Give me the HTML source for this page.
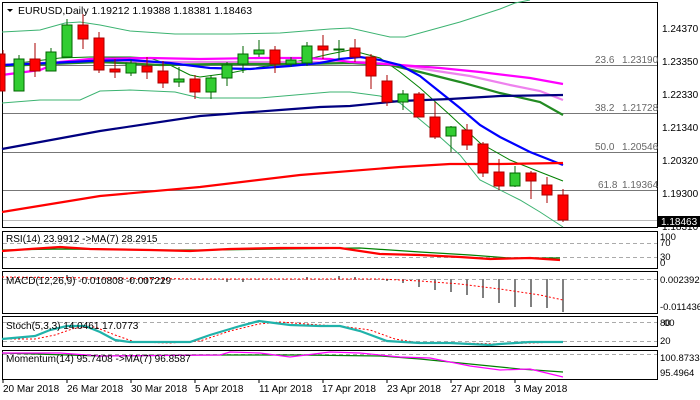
<!DOCTYPE html>
<html><head><meta charset="utf-8"><style>
html,body{margin:0;padding:0;background:#fff;}
svg{display:block;font-family:"Liberation Sans",sans-serif;}
</style></head><body>
<svg width="700" height="400" viewBox="0 0 700 400" xmlns="http://www.w3.org/2000/svg">
<rect width="700" height="400" fill="#fff"/>
<!-- panel borders -->
<g fill="none" stroke="#000" stroke-width="1">
<rect x="2.5" y="2.5" width="655" height="225"/>
<rect x="2.5" y="231.5" width="655" height="37"/>
<rect x="2.5" y="271.5" width="655" height="42"/>
<rect x="2.5" y="316.5" width="655" height="30"/>
<rect x="2.5" y="350.5" width="655" height="29"/>
</g>
<!-- fib lines -->
<g stroke="#777" stroke-width="1">
<line x1="3" y1="65.5" x2="657" y2="65.5"/>
<line x1="3" y1="113.5" x2="657" y2="113.5"/>
<line x1="3" y1="152.5" x2="657" y2="152.5"/>
<line x1="3" y1="190.5" x2="657" y2="190.5"/>
</g>
<line x1="3" y1="220.5" x2="657" y2="220.5" stroke="#bbb"/>
<g font-size="10" fill="#666">
<text x="595" y="63">23.6</text><text x="622" y="63">1.23190</text>
<text x="595" y="111">38.2</text><text x="622" y="111">1.21728</text>
<text x="595" y="150">50.0</text><text x="622" y="150">1.20546</text>
<text x="598" y="188">61.8</text><text x="622" y="188">1.19364</text>
</g>
<!-- bollinger -->
<g fill="none" stroke-width="1">
<polyline stroke="#3cb371" points="2,32 40,30 65,23 80,22 100,25 130,31 175,34 230,34 280,33 330,29 350,28 390,37 405,37 420,33 460,22 500,9 515,3 530,0"/>
<polyline stroke="#3cb371" points="2,103 40,100 80,100 100,91 130,90 175,92 200,98 260,98 330,92 350,92 380,96 400,103 430,128 460,155 480,180 520,200 540,212 563,227"/>
<polyline stroke="#008000" points="2,65 60,58 90,57 130,57 150,58 170,65 190,75 200,77 230,73 260,67 290,63 330,54 350,50 380,58 400,72 420,88 450,115 480,143 510,160 540,172 563,181"/>
</g>
<g fill="none" stroke-width="2.2">
<polyline stroke="#ee82ee" points="2,65 60,62 150,62 220,62 300,62 340,62 370,62 400,65 430,70 470,76 510,85 540,91 563,100"/>
<polyline stroke="#228b22" points="2,66 100,62 160,65 220,64 300,64 350,63 390,65 420,72 460,82 500,93 540,102 563,115"/>
<polyline stroke="#ff00ff" points="2,75 40,70 60,62 90,59 150,58 200,59 260,58 300,58 330,59 350,62 400,65 440,68 480,72 530,78 563,84"/>
<polyline stroke="#0000ff" points="2,65 50,63 90,61 130,60 170,63 210,68 250,69 290,66 320,63 340,59 360,57 380,60 400,65 420,76 440,92 460,108 480,125 500,137 530,152 563,165"/>
<polyline stroke="#000080" points="2,149 100,131 200,116 280,110 320,107 350,106 400,101 450,99 500,96 563,95"/>
<polyline stroke="#ff0000" points="2,212 100,196 200,187 300,175 400,167 450,164 500,164 563,163"/>
</g>
<!-- candles -->
<g id="c" stroke-width="1">
</g>
<g stroke="#000" stroke-width="1">
<!-- x, color, bodytop, bodybot, high, low -->
<line x1="3" y1="50" x2="3" y2="91" stroke="#a00"/><rect x="0" y="54" width="5" height="37" fill="#f00" stroke="#a00"/>
<line x1="19" y1="55" x2="19" y2="91" stroke="#060"/><rect x="14" y="59" width="10" height="32" fill="#32cd32" stroke="#060"/>
<line x1="35" y1="43" x2="35" y2="77" stroke="#a00"/><rect x="30" y="59" width="10" height="12" fill="#f00" stroke="#a00"/>
<line x1="51" y1="48" x2="51" y2="71" stroke="#060"/><rect x="46" y="52" width="10" height="19" fill="#32cd32" stroke="#060"/>
<line x1="67" y1="19" x2="67" y2="57" stroke="#060"/><rect x="62" y="25" width="10" height="32" fill="#32cd32" stroke="#060"/>
<line x1="83" y1="14" x2="83" y2="49" stroke="#a00"/><rect x="78" y="25" width="10" height="14" fill="#f00" stroke="#a00"/>
<line x1="99" y1="32" x2="99" y2="73" stroke="#a00"/><rect x="94" y="38" width="10" height="32" fill="#f00" stroke="#a00"/>
<line x1="115" y1="59" x2="115" y2="78" stroke="#a00"/><rect x="110" y="69" width="10" height="3" fill="#f00" stroke="#a00"/>
<line x1="131" y1="60" x2="131" y2="76" stroke="#060"/><rect x="126" y="63" width="10" height="10" fill="#32cd32" stroke="#060"/>
<line x1="147" y1="57" x2="147" y2="79" stroke="#a00"/><rect x="142" y="66" width="10" height="6" fill="#f00" stroke="#a00"/>
<line x1="163" y1="61" x2="163" y2="88" stroke="#a00"/><rect x="158" y="71" width="10" height="12" fill="#f00" stroke="#a00"/>
<line x1="179" y1="67" x2="179" y2="87" stroke="#060"/><rect x="174" y="79" width="10" height="3" fill="#32cd32" stroke="#060"/>
<line x1="195" y1="75" x2="195" y2="99" stroke="#a00"/><rect x="190" y="79" width="10" height="13" fill="#f00" stroke="#a00"/>
<line x1="211" y1="75" x2="211" y2="99" stroke="#060"/><rect x="206" y="78" width="10" height="14" fill="#32cd32" stroke="#060"/>
<line x1="227" y1="62" x2="227" y2="86" stroke="#060"/><rect x="222" y="65" width="10" height="13" fill="#32cd32" stroke="#060"/>
<line x1="243" y1="46" x2="243" y2="73" stroke="#060"/><rect x="238" y="54" width="10" height="10" fill="#32cd32" stroke="#060"/>
<line x1="259" y1="40" x2="259" y2="57" stroke="#060"/><rect x="254" y="50" width="10" height="4" fill="#32cd32" stroke="#060"/>
<line x1="275" y1="46" x2="275" y2="73" stroke="#a00"/><rect x="270" y="50" width="10" height="14" fill="#f00" stroke="#a00"/>
<line x1="291" y1="57" x2="291" y2="67" stroke="#060"/><rect x="286" y="60" width="10" height="4" fill="#32cd32" stroke="#060"/>
<line x1="307" y1="42" x2="307" y2="66" stroke="#060"/><rect x="302" y="46" width="10" height="17" fill="#32cd32" stroke="#060"/>
<line x1="323" y1="35" x2="323" y2="59" stroke="#a00"/><rect x="318" y="46" width="10" height="4" fill="#f00" stroke="#a00"/>
<line x1="339" y1="40" x2="339" y2="60" stroke="#060"/><rect x="334" y="49" width="10" height="1" fill="#32cd32" stroke="#060"/>
<line x1="355" y1="39" x2="355" y2="62" stroke="#a00"/><rect x="350" y="48" width="10" height="9" fill="#f00" stroke="#a00"/>
<line x1="371" y1="54" x2="371" y2="89" stroke="#a00"/><rect x="366" y="57" width="10" height="19" fill="#f00" stroke="#a00"/>
<line x1="387" y1="75" x2="387" y2="106" stroke="#a00"/><rect x="382" y="81" width="10" height="21" fill="#f00" stroke="#a00"/>
<line x1="403" y1="90" x2="403" y2="110" stroke="#060"/><rect x="398" y="94" width="10" height="8" fill="#32cd32" stroke="#060"/>
<line x1="419" y1="92" x2="419" y2="117" stroke="#a00"/><rect x="414" y="94" width="10" height="23" fill="#f00" stroke="#a00"/>
<line x1="435" y1="102" x2="435" y2="139" stroke="#a00"/><rect x="430" y="117" width="10" height="20" fill="#f00" stroke="#a00"/>
<line x1="451" y1="126" x2="451" y2="152" stroke="#060"/><rect x="446" y="127" width="10" height="9" fill="#32cd32" stroke="#060"/>
<line x1="467" y1="124" x2="467" y2="150" stroke="#a00"/><rect x="462" y="130" width="10" height="15" fill="#f00" stroke="#a00"/>
<line x1="483" y1="142" x2="483" y2="177" stroke="#a00"/><rect x="478" y="144" width="10" height="29" fill="#f00" stroke="#a00"/>
<line x1="499" y1="159" x2="499" y2="190" stroke="#a00"/><rect x="494" y="172" width="10" height="14" fill="#f00" stroke="#a00"/>
<line x1="515" y1="166" x2="515" y2="187" stroke="#060"/><rect x="510" y="173" width="10" height="13" fill="#32cd32" stroke="#060"/>
<line x1="531" y1="171" x2="531" y2="199" stroke="#a00"/><rect x="526" y="173" width="10" height="8" fill="#f00" stroke="#a00"/>
<line x1="547" y1="177" x2="547" y2="203" stroke="#a00"/><rect x="542" y="185" width="10" height="10" fill="#f00" stroke="#a00"/>
<line x1="563" y1="189" x2="563" y2="222" stroke="#a00"/><rect x="558" y="195" width="10" height="25" fill="#f00" stroke="#a00"/>
</g>
<!-- header -->
<polygon points="7,9 13,9 10,12" fill="#000"/>
<text x="18" y="14" font-size="10.5" fill="#000">EURUSD,Daily  1.19212 1.19388 1.18381 1.18463</text>
<!-- price axis -->
<g font-size="10" fill="#000">
<text x="662" y="32">1.24370</text>
<text x="662" y="65">1.23350</text>
<text x="662" y="98">1.22330</text>
<text x="662" y="131">1.21340</text>
<text x="662" y="164">1.20320</text>
<text x="662" y="197">1.19300</text>
<text x="662" y="230">1.18310</text>
</g>
<rect x="657" y="216" width="43" height="11" fill="#000"/>
<text x="661" y="225" font-size="10" fill="#fff">1.18463</text>
<!-- RSI -->
<g stroke="#aaa" stroke-dasharray="4,3"><line x1="3" y1="243.5" x2="657" y2="243.5"/><line x1="3" y1="257.5" x2="657" y2="257.5"/></g>
<polyline fill="none" stroke="#008000" stroke-width="1.2" points="2,250 60,249 150,250 210,250 280,249 360,248 420,252 470,255 510,258 560,258"/>
<polyline fill="none" stroke="#f00" stroke-width="2.2" points="2,251 30,249 60,247 90,249 150,250 190,251 230,249 280,248 340,248 360,251 380,254 420,255 460,257 490,259 530,258 560,260"/>
<text x="6" y="242" font-size="10">RSI(14) 23.9912  -&gt;MA(7) 28.2915</text>
<g font-size="9.5"><text x="660" y="240">100</text><text x="660" y="246">70</text><text x="660" y="260">30</text><text x="660" y="266">0</text></g>
<!-- MACD -->
<line x1="3" y1="279.5" x2="657" y2="279.5" stroke="#aaa" stroke-dasharray="4,3"/>
<g stroke="#808080" stroke-width="2">
<line x1="67" y1="279" x2="67" y2="275"/><line x1="131" y1="279" x2="131" y2="282"/><line x1="147" y1="279" x2="147" y2="283"/><line x1="163" y1="279" x2="163" y2="283"/><line x1="227" y1="279" x2="227" y2="282"/><line x1="243" y1="279" x2="243" y2="282"/><line x1="307" y1="279" x2="307" y2="277"/><line x1="339" y1="279" x2="339" y2="276"/><line x1="355" y1="279" x2="355" y2="277"/><line x1="387" y1="279" x2="387" y2="281"/><line x1="403" y1="279" x2="403" y2="283"/>
<line x1="419" y1="279" x2="419" y2="287"/><line x1="435" y1="279" x2="435" y2="290"/><line x1="451" y1="279" x2="451" y2="292"/><line x1="467" y1="279" x2="467" y2="295"/><line x1="483" y1="279" x2="483" y2="298"/><line x1="499" y1="279" x2="499" y2="303"/><line x1="515" y1="279" x2="515" y2="307"/><line x1="531" y1="279" x2="531" y2="307"/><line x1="547" y1="279" x2="547" y2="308"/><line x1="563" y1="279" x2="563" y2="312"/>
</g>
<polyline fill="none" stroke="#f00" stroke-dasharray="2,2" points="2,277 100,278 200,279 300,279 380,279 420,281 460,284 500,289 540,295 563,300"/>
<text x="6" y="284" font-size="10">MACD(12,26,9) -0.010808 -0.007229</text>
<g font-size="9.5"><text x="660" y="283">0.002392</text><text x="660" y="310">-0.011436</text></g>
<!-- Stoch -->
<g stroke="#aaa" stroke-dasharray="4,3"><line x1="3" y1="322.5" x2="657" y2="322.5"/><line x1="3" y1="341.5" x2="657" y2="341.5"/></g>
<polyline fill="none" stroke="#f00" stroke-dasharray="2,2" points="2,339 35,339 55,335 75,328 95,327 115,335 135,342 170,343 200,341 230,331 259,324 280,322 320,325 340,326 370,330 395,339 420,343 460,343 500,344 530,343 563,342"/>
<polyline fill="none" stroke="#20b2aa" stroke-width="2.2" points="2,339 35,336 50,330 67,326 85,326 100,332 115,340 130,342 150,342 190,342 210,335 240,326 259,321 290,325 320,326 340,326 360,331 387,341 420,343 450,343 490,345 500,344 530,342 563,342"/>
<text x="6" y="329" font-size="10">Stoch(5,3,3) 14.0461 17.0773</text>
<g font-size="9.5"><text x="660" y="326">80</text><text x="664" y="326">00</text><text x="660" y="344">20</text></g>
<!-- Momentum -->
<line x1="3" y1="354.5" x2="657" y2="354.5" stroke="#aaa" stroke-dasharray="4,3"/>
<polyline fill="none" stroke="#008000" stroke-width="1.2" points="2,353 100,356 200,355 300,355 380,356 420,359 480,365 520,369 563,372"/>
<polyline fill="none" stroke="#f0f" stroke-width="1.2" points="2,353 60,353 100,356 220,355 230,352 260,353 290,357 330,352 360,353 400,357 430,358 470,366 500,370 530,369 563,377"/>
<text x="6" y="362" font-size="10">Momentum(14) 95.7408  -&gt;MA(7) 96.8587</text>
<g font-size="9.5"><text x="660" y="361">100.8733</text><text x="660" y="376">95.4964</text></g>
<!-- dates -->
<g font-size="10">
<text x="3" y="392">20 Mar 2018</text>
<text x="67" y="392">26 Mar 2018</text>
<text x="131" y="392">30 Mar 2018</text>
<text x="195" y="392">5 Apr 2018</text>
<text x="259" y="392">11 Apr 2018</text>
<text x="322" y="392">17 Apr 2018</text>
<text x="387" y="392">23 Apr 2018</text>
<text x="451" y="392">27 Apr 2018</text>
<text x="515" y="392">3 May 2018</text>
</g>
<g stroke="#000"><line x1="3" y1="380" x2="3" y2="383"/><line x1="67" y1="380" x2="67" y2="383"/><line x1="131" y1="380" x2="131" y2="383"/><line x1="195" y1="380" x2="195" y2="383"/><line x1="259" y1="380" x2="259" y2="383"/><line x1="323" y1="380" x2="323" y2="383"/><line x1="387" y1="380" x2="387" y2="383"/><line x1="451" y1="380" x2="451" y2="383"/><line x1="515" y1="380" x2="515" y2="383"/></g>
</svg>
</body></html>
